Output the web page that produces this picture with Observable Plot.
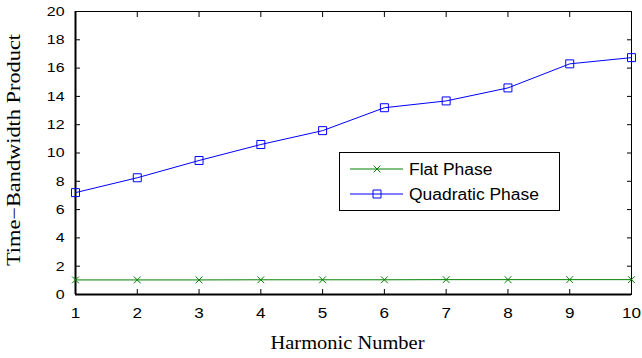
<!DOCTYPE html>
<html>
<head>
<meta charset="utf-8">
<script src="https://cdn.jsdelivr.net/npm/d3@7"></script>
<script src="https://cdn.jsdelivr.net/npm/@observablehq/plot@0.6"></script>
<style>
  html, body { margin: 0; padding: 0; background: #fff; }
  #wrap { position: relative; width: 642px; height: 358px; }
  #legend { position: absolute; left: 339px; top: 152px; }
</style>
</head>
<body>
<div id="wrap"><div id="chart"></div><svg id="legend" width="222" height="60"></svg></div>
<script>
const harmonics = [1, 2, 3, 4, 5, 6, 7, 8, 9, 10];
const flatPhase = [1.03, 1.03, 1.03, 1.04, 1.04, 1.04, 1.05, 1.05, 1.05, 1.05];
const quadraticPhase = [7.2, 8.25, 9.47, 10.6, 11.58, 13.2, 13.68, 14.6, 16.3, 16.74];
const xTicks = [1, 2, 3, 4, 5, 6, 7, 8, 9, 10];
const yTicks = [0, 2, 4, 6, 8, 10, 12, 14, 16, 18, 20];
const seriesNames = ["Flat Phase", "Quadratic Phase"];
const seriesColors = ["#008000", "#0000ff"];
const seriesSymbols = ["times", "square"];
const xLabel = "Harmonic Number";
const yLabel = "Time\u2212Bandwidth Product";

const flatData = harmonics.map((h, i) => ({h, v: flatPhase[i], s: seriesNames[0]}));
const quadData = harmonics.map((h, i) => ({h, v: quadraticPhase[i], s: seriesNames[1]}));

const sans = "'Liberation Sans', Arial, Helvetica, sans-serif";
const serif = "'Liberation Serif', 'Times New Roman', serif";
const empty = () => "";

const chart = Plot.plot({
  width: 642,
  height: 358,
  marginLeft: 75,
  marginRight: 11,
  marginTop: 11,
  marginBottom: 64,
  style: {fontFamily: sans, fontSize: "14px", background: "#fff", color: "#000"},
  x: {domain: [1, 10]},
  y: {domain: [0, 20]},
  color: {domain: seriesNames, range: seriesColors},
  marks: [
    Plot.frame({stroke: "#000", strokeWidth: 1}),
    Plot.ruleY([yTicks[0]], {stroke: "#000", strokeWidth: 2}),
    Plot.ruleX([xTicks[0]], {stroke: "#000", strokeWidth: 2}),
    Plot.axisX(xTicks, {anchor: "bottom", tickSize: -5, tickPadding: 18, label: null, fontSize: 14.5, fill: "#000", stroke: "#000"}),
    Plot.axisX(xTicks, {anchor: "top", tickSize: -5, tickFormat: empty, label: null, stroke: "#000"}),
    Plot.axisY(yTicks, {anchor: "left", tickSize: -5, tickPadding: 16, label: null, fontSize: 13.5, fill: "#000", stroke: "#000"}),
    Plot.axisY(yTicks, {anchor: "right", tickSize: -5, tickFormat: empty, label: null, stroke: "#000"}),
    Plot.line(flatData, {x: "h", y: "v", stroke: "s", strokeWidth: 1}),
    Plot.line(quadData, {x: "h", y: "v", stroke: "s", strokeWidth: 1}),
    Plot.dot(flatData, {x: "h", y: "v", stroke: "s", symbol: () => seriesSymbols[0], r: 3.2, strokeWidth: 1}),
    Plot.dot(quadData, {x: "h", y: "v", stroke: "s", symbol: () => seriesSymbols[1], fill: "none", r: 4.5, strokeWidth: 1}),
    Plot.text([xLabel], {frameAnchor: "bottom", dy: 49, dx: -6, lineAnchor: "middle", fontFamily: serif, fontSize: 18, fill: "#000"}),
    Plot.text([yLabel], {frameAnchor: "left", rotate: -90, dx: -61, dy: -3, lineAnchor: "middle", fontFamily: serif, fontSize: 18, fill: "#000"})
  ]
});
document.getElementById("chart").appendChild(chart);

// widen text horizontally (reference glyphs are slightly stretched)
function stretch(nodes, anchor, {factor = 1, target = null} = {}) {
  nodes.each(function() {
    const L = this.getComputedTextLength();
    if (!L) return;
    const T = target ?? L * factor;
    this.setAttribute("textLength", T);
    this.setAttribute("lengthAdjust", "spacingAndGlyphs");
    this.setAttribute("text-anchor", "start");
    this.setAttribute("x", anchor === "middle" ? -T / 2 : anchor === "end" ? -T : 0);
  });
}
const svg = d3.select(chart);
stretch(svg.selectAll('g[aria-label="x-axis tick label"] text'), "middle", {factor: 1.18});
stretch(svg.selectAll('g[aria-label="y-axis tick label"] text'), "end", {factor: 1.18});
stretch(svg.selectAll("text").filter(function() { return this.textContent === xLabel; }), "middle", {target: 154});
stretch(svg.selectAll("text").filter(function() { return this.textContent === yLabel; }), "middle", {target: 232});

// legend
const lg = d3.select("#legend");
lg.append("rect").attr("x", 0.5).attr("y", 0.5).attr("width", 220).attr("height", 58)
  .attr("fill", "#fff").attr("stroke", "#000").attr("stroke-width", 1);
seriesNames.forEach((name, i) => {
  const y = 17 + i * 25;
  lg.append("line").attr("x1", 11).attr("x2", 64).attr("y1", y).attr("y2", y)
    .attr("stroke", seriesColors[i]).attr("stroke-width", 1);
  const sym = i === 0 ? d3.symbolTimes : d3.symbolSquare;
  const size = Math.PI * (i === 0 ? 3.2 : 4.5) ** 2;
  lg.append("path").attr("d", d3.symbol(sym, size)()).attr("transform", `translate(38,${y})`)
    .attr("fill", "none").attr("stroke", seriesColors[i]).attr("stroke-width", 1);
  lg.append("text").attr("x", 70).attr("y", y).attr("dy", "0.35em")
    .attr("font-family", sans).attr("font-size", 16).attr("fill", "#000").text(name);
});
stretch(lg.selectAll("text"), "start", {factor: 1.09});
lg.selectAll("text").attr("x", 70);
</script>
</body>
</html>
